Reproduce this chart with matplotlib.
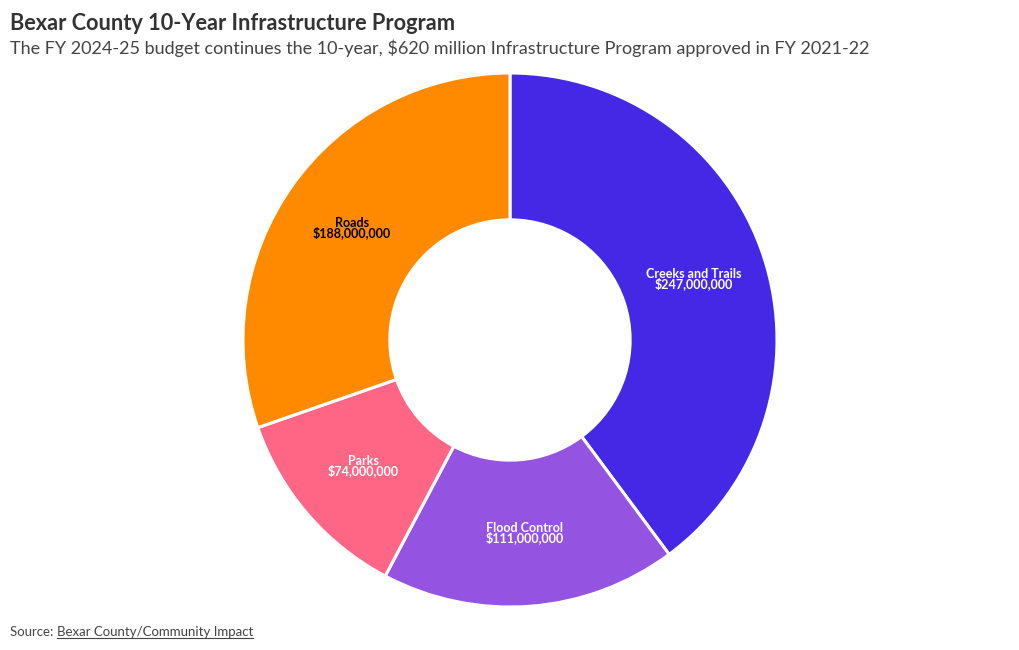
"""Bexar County 10-year infrastructure program donut."""

import matplotlib
matplotlib.use("Agg")
import matplotlib.pyplot as plt
import numpy as np
from matplotlib.lines import Line2D

CATEGORIES = ["Creeks and Trails", "Flood Control", "Parks", "Roads"]
AMOUNTS = [247_000_000, 111_000_000, 74_000_000, 188_000_000]
COLORS = ["#4428e6", "#9453e0", "#ff6584", "#ff8a00"]
TEXT_COLORS = ["white", "white", "white", "black"]

TITLE = "Bexar County 10-Year Infrastructure Program"
SUBTITLE = ("The FY 2024-25 budget continues the 10-year, $620 million "
            "Infrastructure Program approved in FY 2021-22")

plt.rcParams["font.family"] = ["Lato", "DejaVu Sans"]

W, H = 1020, 650
fig = plt.figure(figsize=(W / 100, H / 100), dpi=100)

# donut geometry in pixels
cx, cy, r_out = 510, 340, 267
hole = 0.45
ax = fig.add_axes([(cx - r_out) / W, (H - cy - r_out) / H,
                   2 * r_out / W, 2 * r_out / H])
wedges, _ = ax.pie(AMOUNTS, colors=COLORS, startangle=90, counterclock=False,
                   radius=1.0,
                   wedgeprops=dict(width=1 - hole, edgecolor="white",
                                   linewidth=2.2))
ax.set_xlim(-1, 1)
ax.set_ylim(-1, 1)
ax.set_aspect("equal")
ax.axis("off")

r_lab = (1 + hole) / 2
for w, cat, amt, tc in zip(wedges, CATEGORIES, AMOUNTS, TEXT_COLORS):
    ang = np.deg2rad((w.theta1 + w.theta2) / 2)
    x, y = r_lab * np.cos(ang), r_lab * np.sin(ang)
    ax.text(x, y, f"{cat}\n${amt:,.0f}", ha="center", va="center",
            fontsize=9, fontweight="bold", color=tc, linespacing=0.75)

fig.text(10 / W, 1 - 24 / H, TITLE, fontsize=15.7, fontweight="bold",
         color="#333333", va="center", ha="left")
fig.text(10 / W, 1 - 48 / H, SUBTITLE, fontsize=13, color="#444444",
         va="center", ha="left")

src = fig.text(10 / W, 1 - 632 / H, "Source: ", fontsize=9.5,
               color="#444444", va="center", ha="left")
fig.canvas.draw()
bb = src.get_window_extent()
link = fig.text(bb.x1 / W, 1 - 632 / H, "Bexar County/Community Impact",
                fontsize=9.5, color="#444444", va="center", ha="left")
fig.canvas.draw()
lb = link.get_window_extent()
uy = (lb.y0 + 0.5) / H
fig.add_artist(Line2D([lb.x0 / W, lb.x1 / W], [uy, uy], color="#444444",
                      lw=0.8, transform=fig.transFigure))

fig.savefig("out.png", dpi=100)
